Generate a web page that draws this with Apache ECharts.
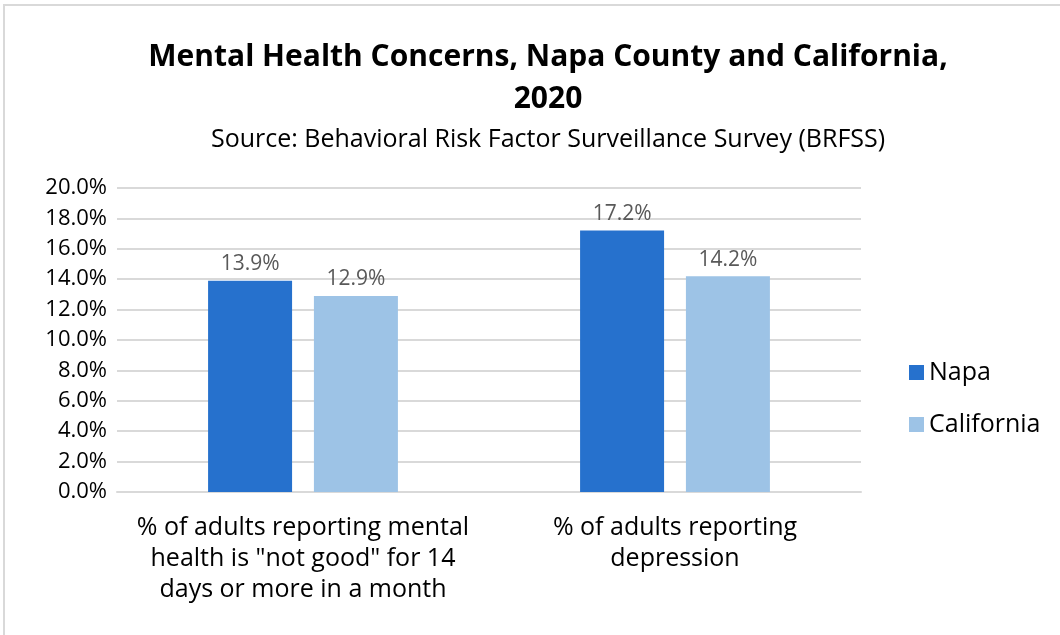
<!DOCTYPE html>
<html>
<head>
<meta charset="utf-8">
<script src="https://cdn.jsdelivr.net/npm/echarts@6/dist/echarts.min.js"></script>
<style>
  html, body { margin: 0; padding: 0; background: #fff; }
  #chart { width: 1060px; height: 635px; }
</style>
</head>
<body>
<div id="chart"></div>
<script>
const categories = [
  '% of adults reporting mental\nhealth is "not good" for 14\ndays or more in a month',
  '% of adults reporting\ndepression'
];
const napaValues = [13.9, 17.2];
const californiaValues = [12.9, 14.2];

const fontFamily = '"Open Sans", "Noto Sans", sans-serif';

const chart = echarts.init(document.getElementById('chart'));

const labelStyle = {
  show: true,
  position: 'top',
  distance: 6,
  color: '#595959',
  fontSize: 21,
  fontFamily: fontFamily,
  formatter: p => p.value.toFixed(1) + '%'
};

const option = {
  animation: false,
  backgroundColor: '#fff',
  graphic: [{
    type: 'rect',
    shape: { x: 4, y: 5, width: 1070, height: 650 },
    style: { fill: 'none', stroke: '#d9d9d9', lineWidth: 2 }
  }],
  title: [{
    text: 'Mental Health Concerns, Napa County and California,\n2020',
    left: 543,
    top: 31,
    textAlign: 'center',
    textStyle: {
      fontFamily: fontFamily,
      fontSize: 30,
      fontWeight: 'bold',
      color: '#000',
      lineHeight: 42
    }
  }, {
    text: 'Source: Behavioral Risk Factor Surveillance Survey (BRFSS)',
    left: 543,
    top: 122,
    textAlign: 'center',
    textStyle: {
      fontFamily: fontFamily,
      fontSize: 25,
      fontWeight: 'normal',
      color: '#000'
    }
  }],
  legend: {
    orient: 'vertical',
    left: 904,
    top: 355,
    itemWidth: 15,
    itemHeight: 15,
    itemGap: 27,
    icon: 'rect',
    textStyle: { fontFamily: fontFamily, fontSize: 25, color: '#000' },
    data: ['Napa', 'California']
  },
  grid: {
    left: 117,
    right: 199,
    top: 188,
    bottom: 143,
    containLabel: false
  },
  xAxis: {
    type: 'category',
    data: categories,
    axisLine: { lineStyle: { color: '#d9d9d9', width: 2 } },
    axisTick: { show: false },
    axisLabel: {
      fontFamily: fontFamily,
      fontSize: 25,
      color: '#000',
      lineHeight: 31,
      margin: 20,
      interval: 0
    }
  },
  yAxis: {
    type: 'value',
    min: 0,
    max: 20,
    interval: 2,
    axisLine: { show: false },
    axisTick: { show: false },
    splitLine: { lineStyle: { color: '#d9d9d9', width: 2 } },
    axisLabel: {
      fontFamily: fontFamily,
      fontSize: 22,
      color: '#000',
      margin: 10,
      formatter: v => v.toFixed(1) + '%'
    }
  },
  series: [{
    name: 'Napa',
    type: 'bar',
    data: napaValues,
    barWidth: 84,
    barGap: '26%',
    itemStyle: { color: '#2671CD' },
    label: labelStyle
  }, {
    name: 'California',
    type: 'bar',
    data: californiaValues,
    barWidth: 84,
    itemStyle: { color: '#9DC3E6' },
    label: labelStyle
  }]
};

chart.setOption(option);
</script>
</body>
</html>
